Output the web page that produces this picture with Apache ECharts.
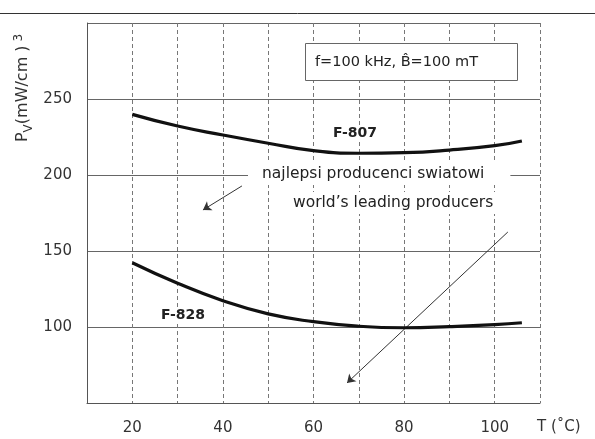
<!DOCTYPE html>
<html>
<head>
<meta charset="utf-8">
<script src="https://cdn.jsdelivr.net/npm/echarts@6/dist/echarts.min.js"></script>
<style>
  html, body { margin: 0; padding: 0; background: #fff; }
  #chart { width: 595px; height: 439px; }
</style>
</head>
<body>
<div id="chart"></div>
<script>
// temperatures (degC) where the curves were read
var temps = [20, 30, 40, 50, 60, 70, 80, 90, 100, 106];
// core loss P_V (mW/cm3)
var f807 = [239.9, 232.2, 226.3, 220.9, 216.0, 214.3, 214.7, 216.4, 219.3, 222.4];
var f828 = [142.3, 128.8, 117.3, 108.6, 103.5, 100.5, 99.5, 100.2, 101.5, 102.8];
var xTicks = [20, 40, 60, 80, 100];
var yTicks = [100, 150, 200, 250];
// arrow annotations, in data units
var arrowSmall = [[44.2, 192.8], [35.6, 177.0]];
var arrowLong = [[102.9, 162.5], [67.4, 63.2]];

var font = 'DejaVu Sans';
var chart = echarts.init(document.getElementById('chart'));

function pairs(xs, ys) {
  return xs.map(function (x, i) { return [x, ys[i]]; });
}

var option = {
  animation: false,
  backgroundColor: '#fff',
  grid: { left: 87, right: 55, top: 23, bottom: 36 },
  xAxis: {
    type: 'value',
    min: 10,
    max: 110,
    interval: 10,
    axisLine: { show: true, lineStyle: { color: '#555', width: 1 } },
    axisTick: { show: false },
    axisLabel: {
      margin: 18,
      fontFamily: font,
      fontSize: 15,
      color: '#333',
      formatter: function (v) { return xTicks.indexOf(v) >= 0 ? String(v) : ''; }
    },
    splitLine: { show: true, lineStyle: { color: '#777', width: 1, type: [4, 3] } }
  },
  yAxis: {
    type: 'value',
    min: 50,
    max: 300,
    interval: 50,
    axisLine: { show: true, lineStyle: { color: '#555', width: 1 } },
    axisTick: { show: false },
    axisLabel: {
      margin: 15,
      fontFamily: font,
      fontSize: 15,
      color: '#333',
      formatter: function (v) { return yTicks.indexOf(v) >= 0 ? String(v) : ''; }
    },
    splitLine: { show: true, lineStyle: { color: '#666', width: 1 } }
  },
  series: [
    {
      name: 'F-807',
      type: 'line',
      smooth: true,
      showSymbol: false,
      lineStyle: { color: '#111', width: 3.2 },
      data: pairs(temps, f807),
      z: 5,
      markLine: {
        silent: true,
        symbol: ['none', 'arrow'],
        symbolSize: 8,
        label: { show: false },
        lineStyle: { color: '#333', width: 1, type: 'solid' },
        data: [
          [{ coord: arrowSmall[0] }, { coord: arrowSmall[1] }],
          [{ coord: arrowLong[0] }, { coord: arrowLong[1] }]
        ]
      }
    },
    {
      name: 'F-828',
      type: 'line',
      smooth: true,
      showSymbol: false,
      lineStyle: { color: '#111', width: 3.2 },
      data: pairs(temps, f828),
      z: 5
    }
  ],
  graphic: [
    // page rule above the plot
    { type: 'line', shape: { x1: 0, y1: 13.5, x2: 595, y2: 13.5 }, style: { stroke: '#333', lineWidth: 1 }, silent: true },
    // condition box
    { type: 'rect', shape: { x: 305.5, y: 43.5, width: 212, height: 37 }, style: { fill: '#fff', stroke: '#666', lineWidth: 1 }, z: 10 },
    { type: 'text', x: 315, y: 62, z: 11,
      style: { text: 'f=100 kHz, B\u0302=100 mT', font: '14.5px "DejaVu Sans"', fill: '#222', textAlign: 'left', textVerticalAlign: 'middle' } },
    { type: 'text', x: 355, y: 133, z: 11,
      style: { text: 'F-807', font: 'bold 14px "DejaVu Sans"', fill: '#222', textAlign: 'center', textVerticalAlign: 'middle', backgroundColor: '#fff', padding: [1, 2] } },
    { type: 'text', x: 183, y: 315, z: 11,
      style: { text: 'F-828', font: 'bold 14px "DejaVu Sans"', fill: '#222', textAlign: 'center', textVerticalAlign: 'middle', backgroundColor: '#fff', padding: [1, 2] } },
    { type: 'text', x: 248, y: 174, z: 11,
      style: { text: 'najlepsi producenci swiatowi', font: '15.5px "DejaVu Sans"', fill: '#222', textAlign: 'left', textVerticalAlign: 'middle', backgroundColor: '#fff', padding: [3, 26, 3, 14] } },
    { type: 'text', x: 285, y: 203, z: 11,
      style: { text: 'world\u2019s leading producers', font: '15.5px "DejaVu Sans"', fill: '#222', textAlign: 'left', textVerticalAlign: 'middle', backgroundColor: '#fff', padding: [3, 10, 3, 8] } },
    // y axis title, rotated
    { type: 'text', x: 23, y: 88, rotation: Math.PI / 2, z: 11,
      style: {
        text: '{p|P}{s|V}{n|(mW/cm )}{u| 3}',
        textAlign: 'center',
        textVerticalAlign: 'middle',
        fill: '#333',
        rich: {
          p: { fontFamily: font, fontSize: 16, fill: '#333' },
          s: { fontFamily: font, fontSize: 12, fill: '#333', padding: [11, 0, 0, 0] },
          n: { fontFamily: font, fontSize: 16, fill: '#333' },
          u: { fontFamily: font, fontSize: 12, fill: '#333', padding: [0, 0, 8, 0] }
        }
      } },
    // x axis title
    { type: 'text', x: 537, y: 427, z: 11,
      style: { text: 'T (\u02daC)', font: '15px "DejaVu Sans"', fill: '#333', textAlign: 'left', textVerticalAlign: 'middle' } }
  ]
};

chart.setOption(option);
</script>
</body>
</html>
